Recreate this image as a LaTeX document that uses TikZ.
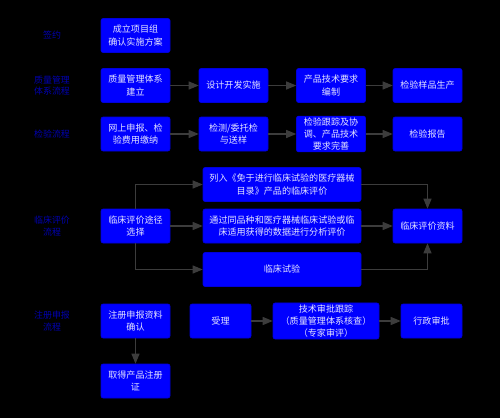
\documentclass[tikz,border=0pt]{standalone}
\usepackage{fontspec}
\setmainfont{Noto Sans CJK SC}
\usepackage{xcolor}
\usetikzlibrary{arrows.meta,positioning,calc}
\definecolor{boxblue}{HTML}{0000FF}
\definecolor{lblblue}{HTML}{0000B0}
\definecolor{arrgray}{HTML}{3C3C3C}

\begin{document}
\begin{tikzpicture}[x=0.75pt,y=-0.75pt,
    box/.style={draw=boxblue!85!black,fill=boxblue,rounded corners=1.5pt,text=white!90!blue,
      font=\fontsize{6.8}{9.3}\selectfont,align=center,minimum width=51.75pt,minimum height=25.5pt,inner sep=1pt},
    lbl/.style={text=lblblue,font=\fontsize{6.7}{8.4}\selectfont,align=center},
    arr/.style={draw=arrgray,line width=0.8pt,-{Triangle[length=7.5pt,width=6pt]}}]
  \fill[black] (0,0) rectangle (500,418);
  \useasboundingbox (0,0) rectangle (500,418);
  % stage labels
  \foreach \y/\t/\n in {35.5/签约/l1,85.5/质量管理\\体系流程/l2,134/检验流程/l3,226/临床评价\\流程/l4,321/注册申报\\流程/l5}
    \node[lbl] (\n) at (52,\y) {\t};
  % signing
  \node[box] (sign) at (135.5,35.5) {成立项目组\\确认实施方案};
  % quality system
  \node[box] (qms) at (135.5,85.5) {质量管理体系\\建立};
  \node[box] (dev) at (233.5,85.5) {设计开发实施};
  \node[box] (req) at (331,85.5) {产品技术要求\\编制};
  \node[box] (samp) at (427.5,85.5) {检验样品生产};
  % testing
  \node[box] (online) at (135.5,134) {网上申报、检\\验费用缴纳};
  \node[box] (test) at (233.5,134) {检测/委托检\\与送样};
  \node[box] (track) at (331,134) {检验跟踪及协\\调、产品技术\\要求完善};
  \node[box] (report) at (427.5,134) {检验报告};
  % clinical evaluation
  \node[box] (path) at (135.5,226) {临床评价途径\\选择};
  \node[box,minimum width=118.5pt] (exempt) at (282,184.5) {列入《免于进行临床试验的医疗器械\\目录》产品的临床评价};
  \node[box,minimum width=118.5pt] (same) at (282,226) {通过同品种和医疗器械临床试验或临\\床适用获得的数据进行分析评价};
  \node[box,minimum width=118.5pt] (trial) at (282,269.5) {临床试验};
  \node[box] (data) at (427.5,226) {临床评价资料};
  % registration
  \node[box] (reg) at (135.5,321) {注册申报资料\\确认};
  \node[box,minimum width=45.75pt] (accept) at (220.5,321) {受理};
  \node[box,minimum width=79.5pt] (tech) at (326,321) {技术审批跟踪\\（质量管理体系核查）\\（专家审评）};
  \node[box,minimum width=45.75pt] (admin) at (431.5,321) {行政审批};
  \node[box] (cert) at (135.5,381) {取得产品注册\\证};
  % connectors
  \foreach \a/\b in {qms/dev,dev/req,req/samp,online/test,test/track,track/report,path/same,same/data,accept/tech,tech/admin}
    \draw[arr] (\a) -- (\b);
  \draw[arr] (path.north) |- (exempt.west);
  \draw[arr] (path.south) |- (trial.west);
  \draw[arr] (exempt.east) -| (data.north);
  \draw[arr] (trial.east) -| (data.south);
  \draw[arr] (reg) -- (cert);
\end{tikzpicture}
\end{document}
